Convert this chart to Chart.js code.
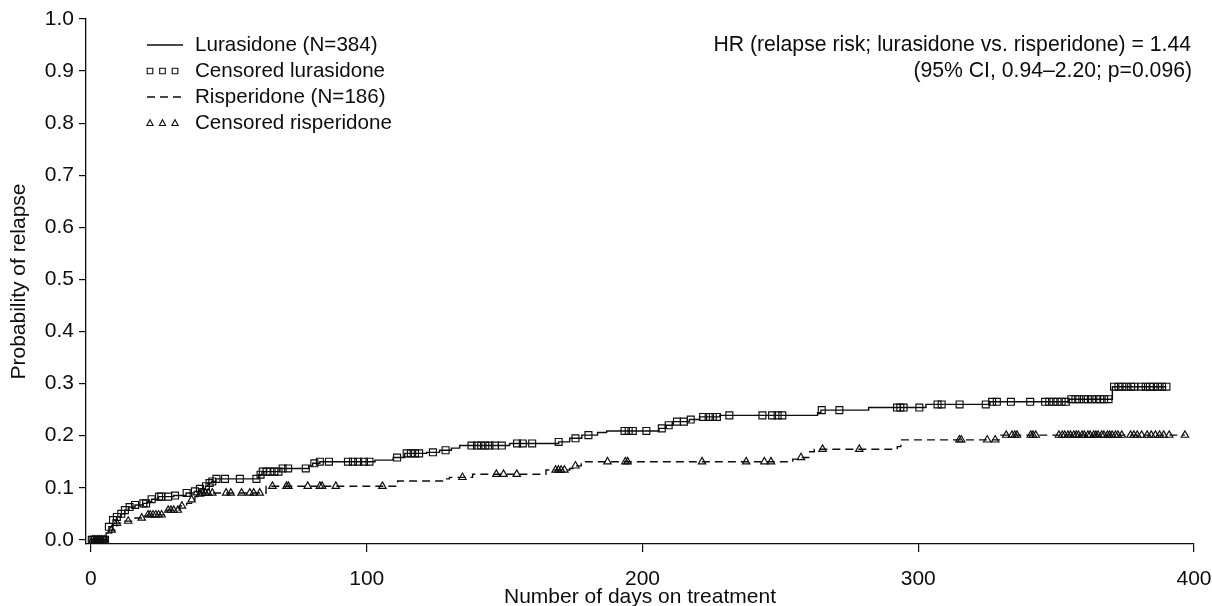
<!DOCTYPE html>
<html>
<head>
<meta charset="utf-8">
<title>Probability of relapse: lurasidone vs. risperidone</title>
<style>
  html, body { margin: 0; padding: 0; background: #ffffff; }
  #wrap { width: 1212px; height: 606px; }
</style>
<script src="https://cdn.jsdelivr.net/npm/chart.js@4.4.1/dist/chart.umd.min.js"></script>
</head>
<body>
<div id="wrap"><canvas id="km" width="1212" height="606"></canvas></div>
<script>
// Kaplan-Meier relapse curves (cumulative probability of relapse by day)
const luraEventDays = [0, 5.5, 6.5, 8, 9.4, 11, 12.3, 13.8, 16, 19, 20.5, 22, 24.5, 30, 34.5, 37.5, 39.5,
  41.5, 42.4, 43.7, 45.3, 60.8, 62, 68.5, 79, 80.4, 83, 103, 109.6, 113.8, 121.7, 126.4, 130.7, 133.7,
  151.8, 169.6, 173.6, 178, 183.7, 187, 206, 208.6, 211, 217, 220.7, 228, 263.5, 264.7, 282, 302.8,
  326, 354.7, 370.4];
const luraEventProb = [0, 0.013, 0.025, 0.038, 0.044, 0.05, 0.057, 0.063, 0.067, 0.07, 0.073, 0.078, 0.083,
  0.085, 0.09, 0.093, 0.098, 0.103, 0.109, 0.112, 0.117, 0.125, 0.131, 0.137, 0.142, 0.147, 0.15, 0.153,
  0.158, 0.166, 0.168, 0.172, 0.176, 0.181, 0.185, 0.188, 0.195, 0.201, 0.206, 0.209, 0.214, 0.22, 0.227,
  0.231, 0.236, 0.239, 0.244, 0.249, 0.254, 0.26, 0.265, 0.27, 0.294];
const luraLastDay = 390;
const luraCensorDays = [0.3, 0.9, 1.5, 2.1, 2.7, 3.3, 3.9, 4.5, 5.1, 6.5, 8, 9.4, 11, 12.3, 14, 16, 19, 20,
  22, 24.7, 25.5, 28, 30.5, 34.7, 37.7, 39.5, 41.7, 43, 44, 45.5, 48.6, 54, 60, 61.5, 62.3, 63.7, 65, 66.5,
  68, 69.5, 71.5, 77.9, 81, 83, 86.3, 93.2, 95, 96.9, 99, 101, 111, 114.5, 116, 117.5, 119, 124, 128.6,
  138, 140, 141.5, 143, 144.5, 146.5, 149, 154.5, 156.6, 160, 169.6, 175.7, 180.4, 193.5, 195, 196.5,
  201.4, 207, 209.5, 212.5, 215, 217.5, 222, 224, 225.5, 227, 231.5, 243.5, 247, 249, 250.7, 265, 271.4,
  292.3, 293.5, 294.7, 300.4, 307, 308.5, 315, 324.5, 326.8, 328.5, 333.6, 340.6, 346, 347.5, 349, 350.5,
  352, 353.5, 355.5, 357, 358.4, 360.1, 361.5, 363, 364.6, 366, 367.4, 369, 371, 372.6, 374, 375.5, 377.2,
  378.4, 380.8, 382.5, 384, 385.3, 386.9, 388.4, 390];

const risEventDays = [0, 6.2, 7.5, 8.7, 9.4, 12, 16, 19.6, 20.7, 27.5, 32.2, 34.7, 36.5, 37.7, 38.8, 40,
  63.5, 111.2, 128.3, 130, 138.4, 165, 173.6, 175.7, 177.8, 254.5, 257.5, 260.3, 262.3, 292.4, 293.7, 330];
const risEventProb = [0, 0.013, 0.019, 0.027, 0.032, 0.036, 0.042, 0.046, 0.048, 0.057, 0.065, 0.07, 0.077,
  0.083, 0.088, 0.09, 0.103, 0.113, 0.117, 0.12, 0.126, 0.134, 0.137, 0.142, 0.15, 0.155, 0.158, 0.169,
  0.174, 0.179, 0.192, 0.201];
const risLastDay = 396.7;
const risCensorDays = [0.6, 1.4, 2.3, 3.1, 4, 4.8, 7.5, 9.4, 13.5, 18.4, 20.7, 21.5, 22.5, 23.5, 24.5, 25.6,
  28, 29, 30, 31.5, 33, 36.5, 39.5, 40.5, 41.5, 42.5, 44, 49, 50.7, 54.6, 57.6, 59, 61.2, 65.8, 70.9, 71.6,
  78.6, 83, 83.8, 88.8, 105.7, 134.7, 147, 149.6, 154.4, 168.5, 169.5, 170.5, 171.7, 175.7, 187.3, 193.8,
  194.6, 221.6, 237.6, 244.2, 246.6, 257.5, 265.3, 278.6, 314.9, 315.6, 325, 327.9, 331.9, 334, 335,
  335.8, 340.8, 341.6, 342.6, 351, 352.2, 353.1, 354.3, 355.2, 356.4, 357.3, 358.1, 359.4, 360.2, 361.5,
  362.3, 363.6, 364.4, 365.2, 366.5, 367.3, 368.6, 369.4, 370.3, 371.5, 372.4, 373.8, 377, 378.2, 379.4,
  381, 383, 384.5, 386, 387.5, 389, 391, 396.7];

const xTickValues = [0, 100, 200, 300, 400];
const yTickValues = [0, 0.1, 0.2, 0.3, 0.4, 0.5, 0.6, 0.7, 0.8, 0.9, 1.0];

const seriesLabels = ['Lurasidone (N=384)', 'Censored lurasidone', 'Risperidone (N=186)', 'Censored risperidone'];
const hrLines = ['HR (relapse risk; lurasidone vs. risperidone) = 1.44', '(95% CI, 0.94\u20132.20; p=0.096)'];

const INK = '#0d0d0d';
const FONT_FAMILY = "'Liberation Sans', Arial, Helvetica, sans-serif";
const AXIS_FONT_SIZE = 21;
const LEGEND_FONT_SIZE = 20.6;
const NOTE_FONT_SIZE = 21.2;

function stepValueAt(days, probs, t) {
  let p = 0;
  for (let i = 0; i < days.length; i++) {
    if (days[i] <= t) p = probs[i];
  }
  return p;
}
function curvePoints(days, probs, lastDay) {
  const pts = days.map((d, i) => ({ x: d, y: probs[i] }));
  pts.push({ x: lastDay, y: probs[probs.length - 1] });
  return pts;
}
function censorPoints(censorDays, days, probs) {
  return censorDays.map(d => ({ x: d, y: stepValueAt(days, probs, d) }));
}

// Legend (line samples / three-marker samples) and hazard-ratio note
const annotationPlugin = {
  id: 'kmAnnotations',
  afterDraw(chart) {
    const ctx = chart.ctx;
    ctx.save();
    ctx.font = LEGEND_FONT_SIZE + 'px ' + FONT_FAMILY;
    ctx.fillStyle = INK;
    ctx.strokeStyle = INK;
    ctx.textBaseline = 'middle';

    const rowY = [45, 71, 97, 123];
    const sampleX0 = 147, sampleX1 = 183, textX = 195;
    const markerXs = [150, 162.5, 175];
    chart.data.datasets.forEach((ds, i) => {
      const y = rowY[i];
      ctx.lineWidth = 1.3;
      if (ds.showLine === false) {
        markerXs.forEach(mx => {
          ctx.beginPath();
          if (ds.pointStyle === 'rect') {
            ctx.rect(mx - 2.8, y - 2.8, 5.6, 5.6);
          } else {
            ctx.moveTo(mx, y - 3.3);
            ctx.lineTo(mx + 3.1, y + 2.5);
            ctx.lineTo(mx - 3.1, y + 2.5);
            ctx.closePath();
          }
          ctx.lineWidth = 1.1;
          ctx.stroke();
        });
      } else {
        ctx.setLineDash(ds.borderDash || []);
        ctx.beginPath();
        ctx.moveTo(sampleX0, y);
        ctx.lineTo(sampleX1, y);
        ctx.stroke();
        ctx.setLineDash([]);
      }
      ctx.textAlign = 'left';
      ctx.fillText(ds.label, textX, y);
    });

    ctx.font = NOTE_FONT_SIZE + 'px ' + FONT_FAMILY;
    ctx.textAlign = 'right';
    ctx.fillText(hrLines[0], 1191, 45);
    ctx.fillText(hrLines[1], 1192, 71);
    ctx.restore();
  }
};

const axisFont = { family: FONT_FAMILY, size: AXIS_FONT_SIZE };

new Chart(document.getElementById('km'), {
  type: 'line',
  data: {
    datasets: [
      {
        label: seriesLabels[0],
        data: curvePoints(luraEventDays, luraEventProb, luraLastDay),
        borderColor: INK, borderWidth: 1.4, pointRadius: 0, stepped: 'before', fill: false
      },
      {
        label: seriesLabels[1],
        data: censorPoints(luraCensorDays, luraEventDays, luraEventProb),
        showLine: false, pointStyle: 'rect', pointRadius: 4.9, borderWidth: 1.15,
        borderColor: INK, backgroundColor: 'rgba(0,0,0,0)'
      },
      {
        label: seriesLabels[2],
        data: curvePoints(risEventDays, risEventProb, risLastDay),
        borderColor: INK, borderWidth: 1.4, borderDash: [8, 5], pointRadius: 0, stepped: 'before', fill: false
      },
      {
        label: seriesLabels[3],
        data: censorPoints(risCensorDays, risEventDays, risEventProb),
        showLine: false, pointStyle: 'triangle', pointRadius: 4.3, borderWidth: 1.15,
        borderColor: INK, backgroundColor: 'rgba(0,0,0,0)'
      }
    ]
  },
  options: {
    responsive: false,
    animation: false,
    devicePixelRatio: 1,
    layout: { padding: { top: 19, right: 18, left: 0, bottom: 0 } },
    plugins: { legend: { display: false }, tooltip: { enabled: false } },
    scales: {
      x: {
        type: 'linear',
        min: -1.8,
        max: 400,
        afterBuildTicks: s => { s.ticks = xTickValues.map(v => ({ value: v })); },
        afterFit: s => { s.height = 62; s.paddingLeft = 0; s.paddingRight = 0; },
        ticks: { font: axisFont, color: INK, padding: 15, maxRotation: 0, callback: v => String(v) },
        grid: { drawOnChartArea: false, drawTicks: true, tickLength: 8, color: INK, lineWidth: 1.2 },
        border: { display: true, color: INK, width: 1.3 },
        title: { display: true, text: 'Number of days on treatment', font: axisFont, color: INK, padding: { top: 0, bottom: -4 } }
      },
      y: {
        type: 'linear',
        min: -0.008,
        max: 1.0,
        afterBuildTicks: s => { s.ticks = yTickValues.map(v => ({ value: v })); },
        afterFit: s => { s.width = 86; s.paddingTop = 0; s.paddingBottom = 0; },
        ticks: { font: axisFont, color: INK, padding: 5, callback: v => v.toFixed(1) },
        grid: { drawOnChartArea: false, drawTicks: true, tickLength: 7, color: INK, lineWidth: 1.2 },
        border: { display: true, color: INK, width: 1.3 },
        title: { display: true, text: 'Probability of relapse', font: axisFont, color: INK, padding: { top: 7, bottom: 0 } }
      }
    }
  },
  plugins: [annotationPlugin]
});
</script>
</body>
</html>
